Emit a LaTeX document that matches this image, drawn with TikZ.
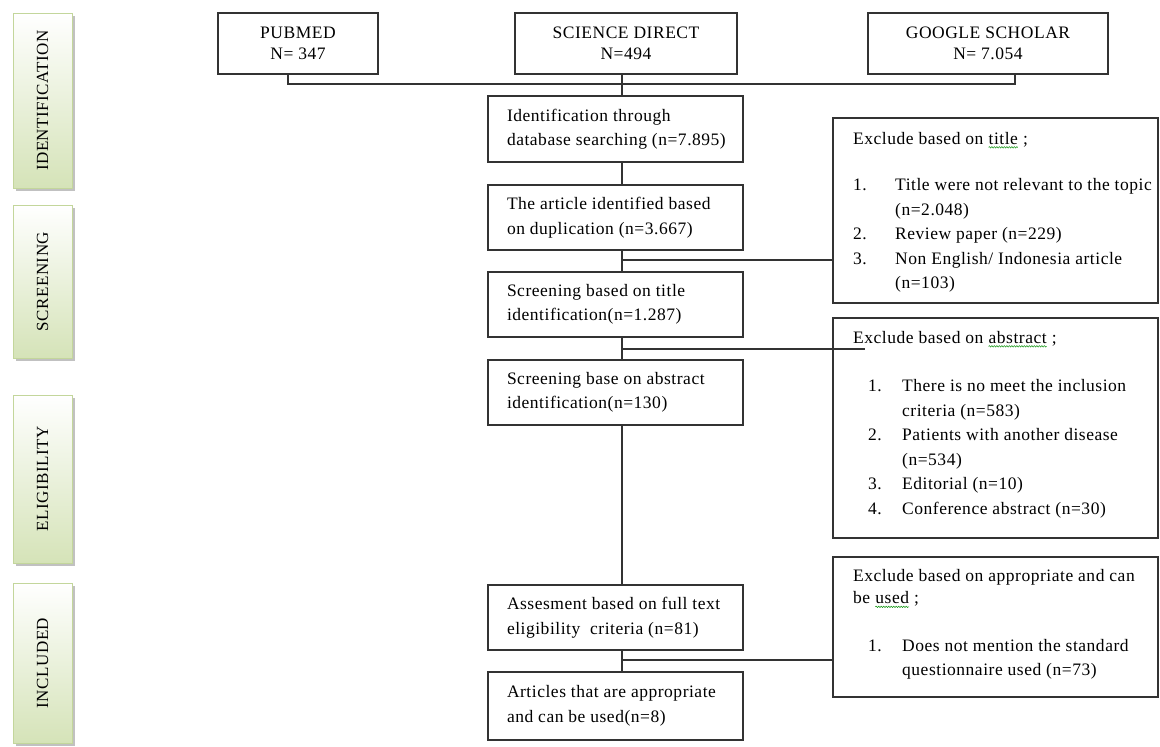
\documentclass[tikz,border=0pt]{standalone}
\usepackage{fontspec}
\setmainfont{Liberation Serif}[LetterSpace=3]
\usetikzlibrary{shadows,decorations.pathmorphing}
\definecolor{ln}{HTML}{333333}
\definecolor{stgline}{HTML}{C3D69B}
\definecolor{stgfill}{HTML}{D5E3B8}
\newcommand\squig[1]{\tikz[baseline=(sq.base)]{\node[inner sep=0pt,outer sep=0pt](sq){#1};\draw[draw=green!55!black,line width=0.5pt,decorate,decoration={snake,amplitude=0.7pt,segment length=2.5pt}]([yshift=-3pt]sq.base west)--([yshift=-3pt]sq.base east);}}
\newcommand\fl[1]{\makebox[217pt][l]{#1}}
\begin{document}
\begin{tikzpicture}[x=1pt,y=-1pt,
  txt/.style={font=\fontsize{17.5}{24.5}\selectfont},
  box/.style={draw=ln,line width=1.2pt,rectangle,inner sep=0pt,txt},
  srcbox/.style={box,minimum height=61pt,align=center},
  flowbox/.style={box,minimum width=255pt,align=left},
  exbox/.style={box,minimum width=325pt},
  extext/.style={txt,inner sep=0pt,anchor=north west,align=left},
  stage/.style={draw=stgline,line width=1pt,rectangle,inner sep=0pt,minimum width=59pt,
     top color=white,bottom color=stgfill,font=\fontsize{17}{20}\selectfont,
     drop shadow={shadow xshift=3pt,shadow yshift=-3pt,fill=gray!60,opacity=0.8}},
  conn/.style={draw=ln,line width=1.2pt}]
\useasboundingbox (0,0) rectangle (1160,747);

% stage labels
\node[stage,minimum height=175pt] (st1) at (42.5,100.5) {\rotatebox{90}{IDENTIFICATION}};
\node[stage,minimum height=153pt] (st2) at (42.5,281.5) {\rotatebox{90}{SCREENING}};
\node[stage,minimum height=168pt] (st3) at (42.5,479) {\rotatebox{90}{ELIGIBILITY}};
\node[stage,minimum height=160pt] (st4) at (42.5,663) {\rotatebox{90}{INCLUDED}};

% sources
\node[srcbox,minimum width=160pt] (pub) at (298,43.5) {PUBMED\\[-3pt]N= 347};
\node[srcbox,minimum width=222pt] (sd) at (626,43.5) {SCIENCE DIRECT\\[-3pt]N=494};
\node[srcbox,minimum width=240pt] (gs) at (988,43.5) {GOOGLE SCHOLAR\\[-3pt]N= 7.054};

% flow boxes
\node[flowbox,minimum height=66pt] (id) at (615.5,129) {\fl{Identification through}\\\fl{database searching (n=7.895)}};
\node[flowbox,minimum height=65pt] (dup) at (615.5,217.5) {\fl{The article identified based}\\\fl{on duplication (n=3.667)}};
\node[flowbox,minimum height=65pt] (scT) at (615.5,304.5) {\fl{Screening based on title}\\\fl{identification(n=1.287)}};
\node[flowbox,minimum height=65pt] (scA) at (615.5,392.5) {\fl{Screening base on abstract}\\\fl{identification(n=130)}};
\node[flowbox,minimum height=65pt] (ass) at (615.5,617.5) {\fl{Assesment based on full text}\\\fl{eligibility\ \ criteria (n=81)}};
\node[flowbox,minimum height=68pt] (art) at (615.5,706) {\fl{Articles that are appropriate}\\\fl{and can be used(n=8)}};

% exclusion boxes
\node[exbox,minimum height=185pt] (exT) at (995.5,210.5) {};
\node[exbox,minimum height=220pt] (exB) at (995.5,428) {};
\node[exbox,minimum height=140pt] (exA) at (995.5,627) {};

\node[extext] (exTt) at (853,132) {Exclude based on \squig{title} ;\\[22pt]
\makebox[42pt][l]{1.}Title were not relevant to the topic\\
\hspace*{42pt}(n=2.048)\\
\makebox[42pt][l]{2.}Review paper (n=229)\\
\makebox[42pt][l]{3.}Non English/ Indonesia article\\
\hspace*{42pt}(n=103)};

\node[extext] (exBt) at (853,331) {Exclude based on \squig{abstract} ;\\[24pt]
\hspace*{15pt}\makebox[34pt][l]{1.}There is no meet the inclusion\\
\hspace*{49pt}criteria (n=583)\\
\hspace*{15pt}\makebox[34pt][l]{2.}Patients with another disease\\
\hspace*{49pt}(n=534)\\
\hspace*{15pt}\makebox[34pt][l]{3.}Editorial (n=10)\\
\hspace*{15pt}\makebox[34pt][l]{4.}Conference abstract (n=30)};

\node[extext] (exAt) at (853,569) {Exclude based on appropriate and can\\[-2pt]
be \squig{used} ;\\[23pt]
\hspace*{15pt}\makebox[34pt][l]{1.}Does not mention the standard\\
\hspace*{49pt}questionnaire used (n=73)};

% connectors
\coordinate (bus) at (622,84);
\coordinate (b1) at (622,260);
\coordinate (b2) at (622,349);
\coordinate (b2e) at (865,349);
\coordinate (b3) at (622,660);

\draw[conn] ([xshift=-10pt]pub.south) |- (bus);
\draw[conn] ([xshift=27pt]gs.south) |- (bus);
\draw[conn] (sd.south -| bus) -- (id.north -| bus);
\draw[conn] (id.south -| bus) -- (dup.north -| bus);
\draw[conn] (dup.south -| bus) -- (scT.north -| bus);
\draw[conn] (scT.south -| bus) -- (scA.north -| bus);
\draw[conn] (scA.south -| bus) -- (ass.north -| bus);
\draw[conn] (ass.south -| bus) -- (art.north -| bus);
\draw[conn] (b1) -- (b1 -| exT.west);
\draw[conn] (b2) -- (b2e);
\draw[conn] (b3) -- (b3 -| exA.west);
\end{tikzpicture}
\end{document}
